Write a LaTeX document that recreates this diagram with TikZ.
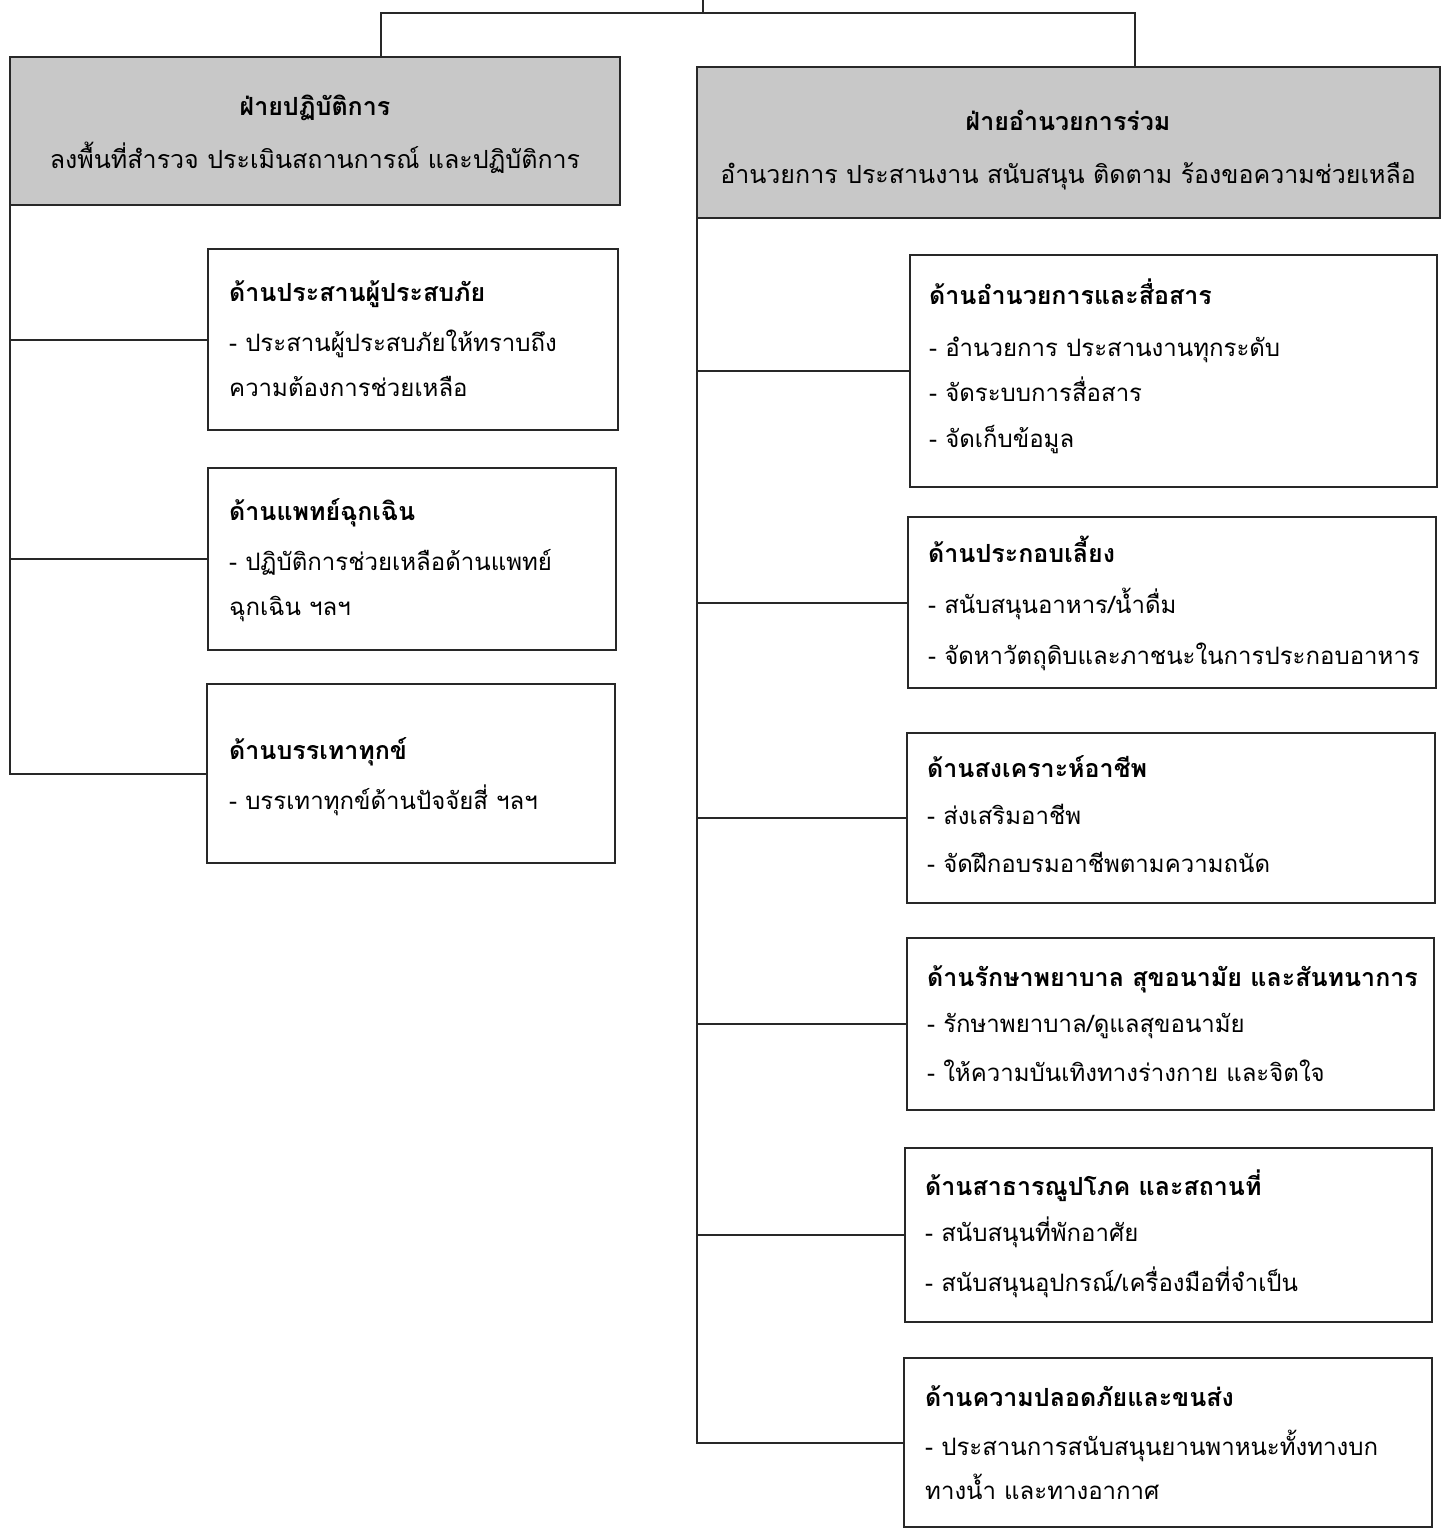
\documentclass[tikz,border=0pt]{standalone}
\usepackage{fontspec}
\newfontfamily\thaifont[Script=Thai]{Loma}
\definecolor{hdrgray}{RGB}{200,200,200}
\definecolor{linegray}{RGB}{40,40,40}
\begin{document}
\begin{tikzpicture}[x=1pt,y=-1pt,
  conn/.style={draw=linegray, line width=2pt},
  hdrbox/.style={draw=linegray, line width=2.5pt, fill=hdrgray, anchor=north west, inner sep=0, outer sep=0},
  subbox/.style={draw=linegray, line width=2.5pt, fill=white, anchor=north west, inner sep=0, outer sep=0},
  ttl/.style={font=\thaifont\bfseries\fontsize{25}{30}\selectfont, anchor=base west, inner sep=0},
  txt/.style={font=\thaifont\fontsize{24}{29}\selectfont, anchor=base west, inner sep=0},
  httl/.style={font=\thaifont\bfseries\fontsize{25}{30}\selectfont, anchor=base, inner sep=0},
  htxt/.style={font=\thaifont\fontsize{25}{30}\selectfont, anchor=base, inner sep=0}]
\useasboundingbox (0,0) rectangle (1448,1529);

% header boxes
\node[hdrbox, minimum width=610, minimum height=148] (hL) at (10,57) {};
\node[hdrbox, minimum width=743, minimum height=151] (hR) at (697,67) {};
\node[httl] (hLt) at (315,115) {ฝ่ายปฏิบัติการ};
\node[htxt] (hLs) at (315,168) {ลงพื้นที่สำรวจ ประเมินสถานการณ์ และปฏิบัติการ};
\node[httl] (hRt) at (1068,130) {ฝ่ายอำนวยการร่วม};
\node[htxt] (hRs) at (1068,183) {อำนวยการ ประสานงาน สนับสนุน ติดตาม ร้องขอความช่วยเหลือ};

% top connectors
\coordinate (top) at (703,0);
\coordinate (junc) at (703,13);
\coordinate (jl) at (381,13);
\coordinate (jr) at (1135,13);
\draw[conn] (top) -- (junc);
\draw[conn] (jl |- hL.north) -- (jl) -- (jr) -- (jr |- hR.north);

% left boxes
\node[subbox, minimum width=410, minimum height=181] (l1) at (208,249) {};
\node[subbox, minimum width=408, minimum height=182] (l2) at (208,468) {};
\node[subbox, minimum width=408, minimum height=179] (l3) at (207,684) {};

\node[ttl] (l1a) at (229,301) {ด้านประสานผู้ประสบภัย};
\node[txt] (l1b) at (229,351) {- ประสานผู้ประสบภัยให้ทราบถึง};
\node[txt] (l1c) at (229,396) {ความต้องการช่วยเหลือ};

\node[ttl] (l2a) at (229,520) {ด้านแพทย์ฉุกเฉิน};
\node[txt] (l2b) at (229,570) {- ปฏิบัติการช่วยเหลือด้านแพทย์};
\node[txt] (l2c) at (229,615) {ฉุกเฉิน ฯลฯ};

\node[ttl] (l3a) at (229,759) {ด้านบรรเทาทุกข์};
\node[txt] (l3b) at (229,809) {- บรรเทาทุกข์ด้านปัจจัยสี่ ฯลฯ};

% right boxes
\node[subbox, minimum width=527, minimum height=232] (r1) at (910,255) {};
\node[subbox, minimum width=528, minimum height=171] (r2) at (908,517) {};
\node[subbox, minimum width=528, minimum height=170] (r3) at (907,733) {};
\node[subbox, minimum width=527, minimum height=172] (r4) at (907,938) {};
\node[subbox, minimum width=527, minimum height=174] (r5) at (905,1148) {};
\node[subbox, minimum width=528, minimum height=169] (r6) at (904,1358) {};

\node[ttl] (r1a) at (929,304) {ด้านอำนวยการและสื่อสาร};
\node[txt] (r1b) at (929,356) {- อำนวยการ ประสานงานทุกระดับ};
\node[txt] (r1c) at (929,401) {- จัดระบบการสื่อสาร};
\node[txt] (r1d) at (929,447) {- จัดเก็บข้อมูล};

\node[ttl] (r2a) at (928,562) {ด้านประกอบเลี้ยง};
\node[txt] (r2b) at (928,613) {- สนับสนุนอาหาร/น้ำดื่ม};
\node[txt] (r2c) at (928,664) {- จัดหาวัตถุดิบและภาชนะในการประกอบอาหาร};

\node[ttl] (r3a) at (927,777) {ด้านสงเคราะห์อาชีพ};
\node[txt] (r3b) at (927,824) {- ส่งเสริมอาชีพ};
\node[txt] (r3c) at (927,872) {- จัดฝึกอบรมอาชีพตามความถนัด};

\node[ttl] (r4a) at (927,986) {ด้านรักษาพยาบาล สุขอนามัย และสันทนาการ};
\node[txt] (r4b) at (927,1032) {- รักษาพยาบาล/ดูแลสุขอนามัย};
\node[txt] (r4c) at (927,1081) {- ให้ความบันเทิงทางร่างกาย และจิตใจ};

\node[ttl] (r5a) at (925,1195) {ด้านสาธารณูปโภค และสถานที่};
\node[txt] (r5b) at (925,1241) {- สนับสนุนที่พักอาศัย};
\node[txt] (r5c) at (925,1291) {- สนับสนุนอุปกรณ์/เครื่องมือที่จำเป็น};

\node[ttl] (r6a) at (925,1406) {ด้านความปลอดภัยและขนส่ง};
\node[txt] (r6b) at (925,1455) {- ประสานการสนับสนุนยานพาหนะทั้งทางบก};
\node[txt] (r6c) at (925,1499) {ทางน้ำ และทางอากาศ};

% trunks and branches
\draw[conn] (hL.south west) |- (l3.west);
\draw[conn] (hL.south west |- l1.west) -- (l1.west);
\draw[conn] (hL.south west |- l2.west) -- (l2.west);

\draw[conn] (hR.south west) |- (r6.west);
\draw[conn] (hR.south west |- r1.west) -- (r1.west);
\draw[conn] (hR.south west |- r2.west) -- (r2.west);
\draw[conn] (hR.south west |- r3.west) -- (r3.west);
\draw[conn] (hR.south west |- r4.west) -- (r4.west);
\draw[conn] (hR.south west |- r5.west) -- (r5.west);
\end{tikzpicture}
\end{document}
